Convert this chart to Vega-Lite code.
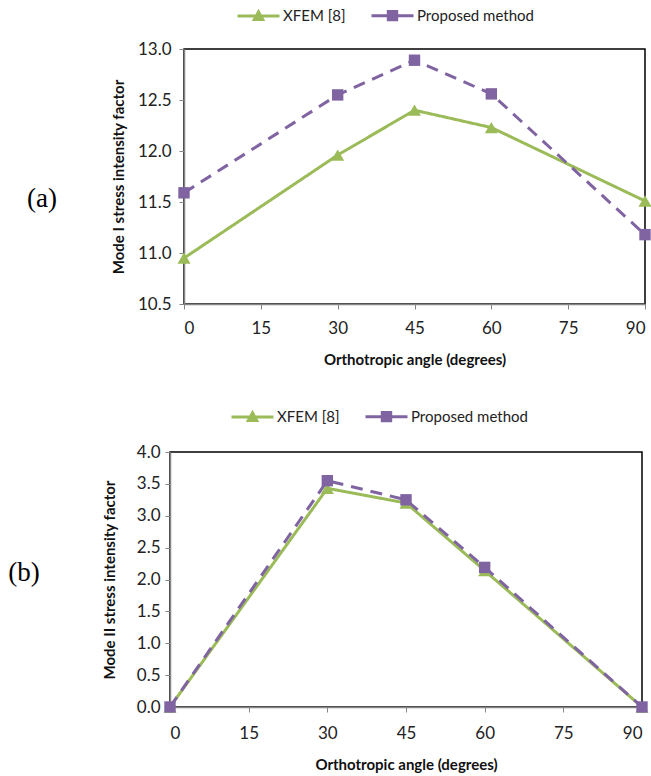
{
  "$schema": "https://vega.github.io/schema/vega-lite/v6.json",
  "padding": {"left": 5, "top": 0, "right": 0, "bottom": 0},
  "background": "white",
  "spacing": 33,
  "datasets": {
    "a": [
      {"series": "XFEM [8]", "angle": 0, "value": 10.95},
      {"series": "XFEM [8]", "angle": 30, "value": 11.96},
      {"series": "XFEM [8]", "angle": 45, "value": 12.40},
      {"series": "XFEM [8]", "angle": 60, "value": 12.23},
      {"series": "XFEM [8]", "angle": 90, "value": 11.51},
      {"series": "Proposed method", "angle": 0, "value": 11.59},
      {"series": "Proposed method", "angle": 30, "value": 12.55},
      {"series": "Proposed method", "angle": 45, "value": 12.89},
      {"series": "Proposed method", "angle": 60, "value": 12.56},
      {"series": "Proposed method", "angle": 90, "value": 11.18}
    ],
    "b": [
      {"series": "XFEM [8]", "angle": 0, "value": 0},
      {"series": "XFEM [8]", "angle": 30, "value": 3.43},
      {"series": "XFEM [8]", "angle": 45, "value": 3.20},
      {"series": "XFEM [8]", "angle": 60, "value": 2.14},
      {"series": "XFEM [8]", "angle": 90, "value": 0},
      {"series": "Proposed method", "angle": 0, "value": 0},
      {"series": "Proposed method", "angle": 30, "value": 3.55},
      {"series": "Proposed method", "angle": 45, "value": 3.25},
      {"series": "Proposed method", "angle": 60, "value": 2.19},
      {"series": "Proposed method", "angle": 90, "value": 0}
    ]
  },
  "config": {
    "view": {"stroke": "#000000", "strokeWidth": 1.5},
    "axis": {
      "domainColor": "#868686", "domainWidth": 1.5, "tickColor": "#868686", "tickSize": 5, "tickWidth": 1,
      "grid": false, "labelFont": "Lato", "labelFontSize": 17, "labelColor": "#222222",
      "titleFont": "Lato", "titleFontSize": 15, "titleFontWeight": "bold", "titleColor": "#111111"
    },
    "legend": {
      "direction": "horizontal", "labelFont": "Lato", "labelFontSize": 15, "labelColor": "#222222",
      "symbolSize": 784, "symbolStrokeWidth": 3, "labelOffset": 9, "columnPadding": 19, "padding": 0
    }
  },
  "vconcat": [
    {
      "spacing": 31,
      "hconcat": [
        {
          "width": 74, "height": 255,
          "view": {"stroke": null},
          "data": {"values": [{"label": "(a)"}]},
          "mark": {"type": "text", "font": "Liberation Serif", "fontSize": 27, "color": "#000000", "align": "center", "baseline": "middle", "dy": 22},
          "encoding": {"text": {"field": "label", "type": "nominal"}}
        },
        {
          "width": 461, "height": 255,
          "data": {"name": "a"},
          "encoding": {
            "x": {"field": "angle", "type": "quantitative", "scale": {"domain": [0, 90], "nice": false}, "axis": {"values": [0, 15, 30, 45, 60, 75, 90], "title": "Orthotropic angle (degrees)", "labelPadding": 11, "titlePadding": 16}},
            "y": {"field": "value", "type": "quantitative", "scale": {"domain": [10.5, 13], "nice": false, "zero": false}, "axis": {"values": [10.5, 11, 11.5, 12, 12.5, 13], "format": ".1f", "title": "Mode I stress intensity factor", "labelPadding": 8, "titlePadding": 11}}
          },
          "layer": [
            {
              "mark": {"type": "line", "strokeWidth": 3},
              "encoding": {
                "color": {"field": "series", "type": "nominal", "scale": {"domain": ["XFEM [8]", "Proposed method"], "range": ["#9BBB59", "#8064A2"]}, "legend": null},
                "strokeDash": {"field": "series", "type": "nominal", "scale": {"domain": ["XFEM [8]", "Proposed method"], "range": [[1, 0], [12, 8]]}, "legend": null}
              }
            },
            {
              "transform": [{"filter": "datum.series == 'XFEM [8]'"}],
              "mark": {"type": "point", "shape": "triangle-up", "filled": true, "opacity": 1, "size": 170, "color": "#9BBB59"},
              "encoding": {}
            },
            {
              "transform": [{"filter": "datum.series == 'Proposed method'"}],
              "mark": {"type": "point", "shape": "square", "filled": true, "opacity": 1, "size": 130, "color": "#8064A2"},
              "encoding": {}
            },
            {
              "mark": {"type": "point", "filled": true, "opacity": 0},
              "encoding": {
                "fill": {"field": "series", "type": "nominal", "scale": {"domain": ["XFEM [8]", "Proposed method"], "range": ["#9BBB59", "#8064A2"]}, "legend": {"title": ".", "titleOrient": "left", "titleFontSize": 1, "titleOpacity": 0, "titlePadding": 237, "orient": "top", "offset": 13, "symbolOpacity": 1}},
                "stroke": {"field": "series", "type": "nominal", "scale": {"domain": ["XFEM [8]", "Proposed method"], "range": ["#9BBB59", "#8064A2"]}, "legend": {"title": ".", "titleOrient": "left", "titleFontSize": 1, "titleOpacity": 0, "titlePadding": 237, "orient": "top", "offset": 13, "symbolOpacity": 1}},
                "shape": {"field": "series", "type": "nominal", "scale": {"domain": ["XFEM [8]", "Proposed method"], "range": ["M-1.5,0L1.5,0M-0.3,0.24L0,-0.3L0.3,0.24Z", "M-1.5,0L1.5,0M-0.3,-0.3L0.3,-0.3L0.3,0.3L-0.3,0.3Z"]}, "legend": {"title": ".", "titleOrient": "left", "titleFontSize": 1, "titleOpacity": 0, "titlePadding": 237, "orient": "top", "offset": 13, "symbolOpacity": 1}}
              }
            }
          ]
        }
      ]
    },
    {
      "spacing": 58,
      "hconcat": [
        {
          "width": 38, "height": 255,
          "view": {"stroke": null},
          "data": {"values": [{"label": "(b)"}]},
          "mark": {"type": "text", "font": "Liberation Serif", "fontSize": 27, "color": "#000000", "align": "center", "baseline": "middle", "dy": -7},
          "encoding": {"text": {"field": "label", "type": "nominal"}}
        },
        {
          "width": 472, "height": 255,
          "data": {"name": "b"},
          "encoding": {
            "x": {"field": "angle", "type": "quantitative", "scale": {"domain": [0, 90], "nice": false}, "axis": {"values": [0, 15, 30, 45, 60, 75, 90], "title": "Orthotropic angle (degrees)", "labelPadding": 13, "titlePadding": 16}},
            "y": {"field": "value", "type": "quantitative", "scale": {"domain": [0, 4], "nice": false}, "axis": {"values": [0, 0.5, 1, 1.5, 2, 2.5, 3, 3.5, 4], "format": ".1f", "title": "Mode II stress intensity factor", "labelPadding": 5, "titlePadding": 19}}
          },
          "layer": [
            {
              "mark": {"type": "line", "strokeWidth": 3},
              "encoding": {
                "color": {"field": "series", "type": "nominal", "scale": {"domain": ["XFEM [8]", "Proposed method"], "range": ["#9BBB59", "#8064A2"]}, "legend": null},
                "strokeDash": {"field": "series", "type": "nominal", "scale": {"domain": ["XFEM [8]", "Proposed method"], "range": [[1, 0], [12, 8]]}, "legend": null}
              }
            },
            {
              "transform": [{"filter": "datum.series == 'XFEM [8]'"}],
              "mark": {"type": "point", "shape": "triangle-up", "filled": true, "opacity": 1, "size": 170, "color": "#9BBB59"},
              "encoding": {}
            },
            {
              "transform": [{"filter": "datum.series == 'Proposed method'"}],
              "mark": {"type": "point", "shape": "square", "filled": true, "opacity": 1, "size": 130, "color": "#8064A2"},
              "encoding": {}
            },
            {
              "mark": {"type": "point", "filled": true, "opacity": 0},
              "encoding": {
                "fill": {"field": "series", "type": "nominal", "scale": {"domain": ["XFEM [8]", "Proposed method"], "range": ["#9BBB59", "#8064A2"]}, "legend": {"title": null, "orient": "none", "legendX": 232, "legendY": -51, "symbolOpacity": 1}},
                "stroke": {"field": "series", "type": "nominal", "scale": {"domain": ["XFEM [8]", "Proposed method"], "range": ["#9BBB59", "#8064A2"]}, "legend": {"title": null, "orient": "none", "legendX": 232, "legendY": -51, "symbolOpacity": 1}},
                "shape": {"field": "series", "type": "nominal", "scale": {"domain": ["XFEM [8]", "Proposed method"], "range": ["M-1.5,0L1.5,0M-0.3,0.24L0,-0.3L0.3,0.24Z", "M-1.5,0L1.5,0M-0.3,-0.3L0.3,-0.3L0.3,0.3L-0.3,0.3Z"]}, "legend": {"title": null, "orient": "none", "legendX": 232, "legendY": -51, "symbolOpacity": 1}}
              }
            }
          ]
        }
      ]
    }
  ]
}
